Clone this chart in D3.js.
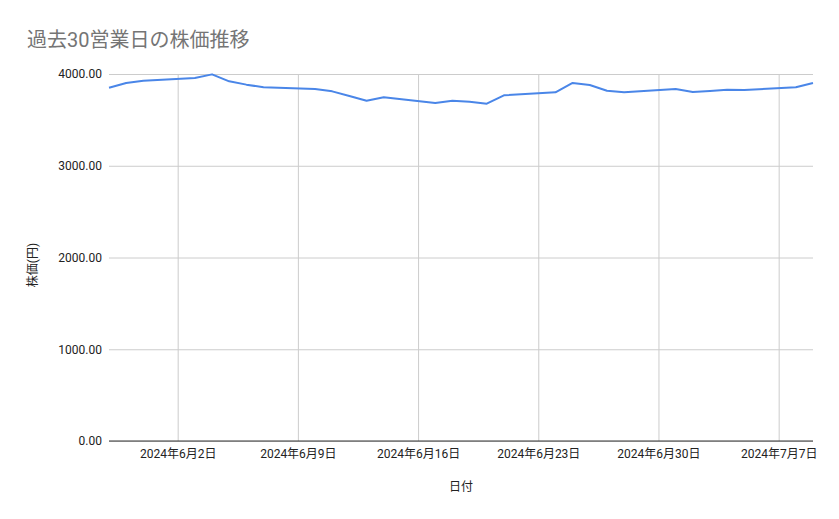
<!DOCTYPE html>
<html>
<head>
<meta charset="utf-8">
<script src="https://cdn.jsdelivr.net/npm/d3@7"></script>
<style>
  body { margin: 0; background: #fff; }
  text { font-family: Roboto, "Noto Sans CJK JP", sans-serif; }
</style>
</head>
<body>
<div class="chart"></div>
<script>
// 30 business days, May 29 - July 9 2024
const dates = [
    "2024-05-29", "2024-05-30", "2024-05-31",
    "2024-06-03", "2024-06-04", "2024-06-05", "2024-06-06", "2024-06-07",
    "2024-06-10", "2024-06-11", "2024-06-12", "2024-06-13", "2024-06-14",
    "2024-06-17", "2024-06-18", "2024-06-19", "2024-06-20", "2024-06-21",
    "2024-06-24", "2024-06-25", "2024-06-26", "2024-06-27", "2024-06-28",
    "2024-07-01", "2024-07-02", "2024-07-03", "2024-07-04", "2024-07-05",
    "2024-07-08", "2024-07-09"
];
const prices = [
    3850, 3902, 3927,
    3956, 3996, 3920, 3884, 3855,
    3837, 3811, 3760, 3709, 3746,
    3684, 3709, 3698, 3677, 3768,
    3800, 3902, 3880, 3818, 3800,
    3837, 3804, 3815, 3829, 3826,
    3855, 3902
];
const yTicks = [0, 1000, 2000, 3000, 4000];
const xTicks = ["2024-06-02", "2024-06-09", "2024-06-16", "2024-06-23", "2024-06-30", "2024-07-07"];

(function () {
    const w = 839;
    const h = 519;
    const left = 109, right = 813, top = 74, bottom = 441;
    const parse = d3.timeParse("%Y-%m-%d");
    const data = dates.map((d, i) => ({date: parse(d), price: prices[i]}));

    const x = d3.scaleTime()
        .domain([parse("2024-05-29"), parse("2024-07-09")])
        .range([left, right]);
    const y = d3.scaleLinear()
        .domain([0, 4000])
        .range([bottom, top]);

    const svg = d3.select(".chart")
        .append("svg")
            .attr("width", w)
            .attr("height", h);

    // title
    svg.append("text")
        .text("過去30営業日の株価推移")
        .attr("x", 27)
        .attr("y", 47)
        .attr("font-size", "20px")
        .attr("fill", "#757575");

    // horizontal gridlines + y labels
    const yAxis = d3.axisLeft(y)
        .tickValues(yTicks)
        .tickSize(-(right - left))
        .tickPadding(7)
        .tickFormat(d3.format(".2f"));
    svg.append("g")
        .attr("transform", `translate(${left},0)`)
        .call(yAxis)
        .call(g => g.select(".domain").remove())
        .call(g => g.selectAll("line").attr("stroke", "#cccccc"))
        .call(g => g.selectAll("text")
            .attr("font-size", "12px")
            .attr("fill", "#222")
            .style("font-family", "Roboto, sans-serif"));

    // vertical gridlines + x labels
    const xAxis = d3.axisBottom(x)
        .tickValues(xTicks.map(parse))
        .tickSize(-(bottom - top))
        .tickPadding(8)
        .tickFormat(d3.timeFormat("%Y年%-m月%-d日"));
    svg.append("g")
        .attr("transform", `translate(0,${bottom})`)
        .call(xAxis)
        .call(g => g.select(".domain").remove())
        .call(g => g.selectAll("line").attr("stroke", "#cccccc"))
        .call(g => g.selectAll("text")
            .attr("font-size", "12px")
            .attr("fill", "#222"));

    // baseline
    svg.append("line")
        .attr("x1", left)
        .attr("x2", right)
        .attr("y1", y(0))
        .attr("y2", y(0))
        .attr("stroke", "#333")
        .attr("stroke-width", 1);

    // price line
    const lineFunc = d3.line()
        .x(d => x(d.date))
        .y(d => y(d.price));
    svg.append("path")
        .attr("d", lineFunc(data))
        .attr("fill", "none")
        .attr("stroke", "#4a86e8")
        .attr("stroke-width", 2)
        .attr("stroke-linejoin", "round");

    // axis titles
    svg.append("text")
        .text("日付")
        .attr("x", (left + right) / 2)
        .attr("y", 491)
        .attr("text-anchor", "middle")
        .attr("font-size", "12px")
        .attr("fill", "#222");

    svg.append("text")
        .text("株価(円)")
        .attr("transform", `translate(37,265) rotate(-90)`)
        .attr("text-anchor", "middle")
        .attr("font-size", "12px")
        .attr("fill", "#222");
})();
</script>
</body>
</html>
